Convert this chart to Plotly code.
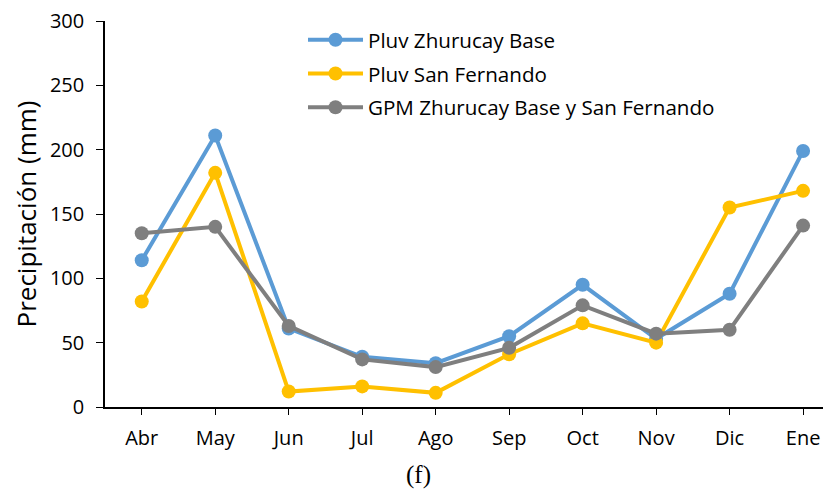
import plotly.graph_objects as go

months = ["Abr", "May", "Jun", "Jul", "Ago", "Sep", "Oct", "Nov", "Dic", "Ene"]
zhurucay = [114, 211, 61, 39, 34, 55, 95, 53, 88, 199]
san_fernando = [82, 182, 12, 16, 11, 41, 65, 50, 155, 168]
gpm = [135, 140, 63, 37, 31, 46, 79, 57, 60, 141]

names = ["Pluv Zhurucay Base", "Pluv San Fernando", "GPM Zhurucay Base y San Fernando"]
colors = ["#5B9BD5", "#FFC000", "#7F7F7F"]

fig = go.Figure()
for i, (name, vals, col) in enumerate(zip(names, [zhurucay, san_fernando, gpm], colors)):
    fig.add_trace(go.Scatter(
        x=months, y=vals, name=name, mode="lines+markers",
        legendgroup=f"g{i}",
        line=dict(color=col, width=4),
        marker=dict(color=col, size=14),
    ))

font_family = "Open Sans, Lato, sans-serif"
# page body has an 8px margin, so the figure is sized to fit the window
W, H = 823, 485
L, T = 97, 13
plot_w = W - L
plot_h = 386
fig.update_layout(
    width=W, height=H,
    margin=dict(l=L, r=0, t=T, b=H - T - plot_h, autoexpand=False),
    plot_bgcolor="white", paper_bgcolor="white",
    font=dict(family=font_family, size=20, color="black"),
    showlegend=True,
    legend=dict(
        x=(295 - L) / plot_w, y=1.003, xanchor="left", yanchor="top",
        bgcolor="rgba(0,0,0,0)", itemwidth=55,
        font=dict(size=20.6), tracegroupgap=4,
    ),
    xaxis=dict(
        type="category", range=[-0.5, 9.38],
        showline=True, linecolor="black", linewidth=1.5,
        ticks="outside", ticklen=6, tickcolor="black",
        showgrid=False, zeroline=False,
        tickfont=dict(size=20), ticklabelstandoff=6,
    ),
    yaxis=dict(
        range=[0, 300], tickvals=[0, 50, 100, 150, 200, 250, 300],
        showline=True, linecolor="black", linewidth=1.5,
        ticks="outside", ticklen=7, tickcolor="black",
        showgrid=False, zeroline=False,
        title=dict(text="Precipitación (mm)", font=dict(size=26), standoff=13),
        tickfont=dict(size=20), ticklabelstandoff=8,
        ticklabeloverflow="allow",
    ),
)
fig.add_annotation(
    text="(f)", xref="paper", yref="paper", x=(410 - L) / plot_w, y=-(467 - (T + plot_h)) / plot_h,
    xanchor="center", yanchor="middle", showarrow=False,
    font=dict(family="Liberation Serif, Times New Roman, serif", size=25, color="black"),
)
fig.write_html("out.html")
